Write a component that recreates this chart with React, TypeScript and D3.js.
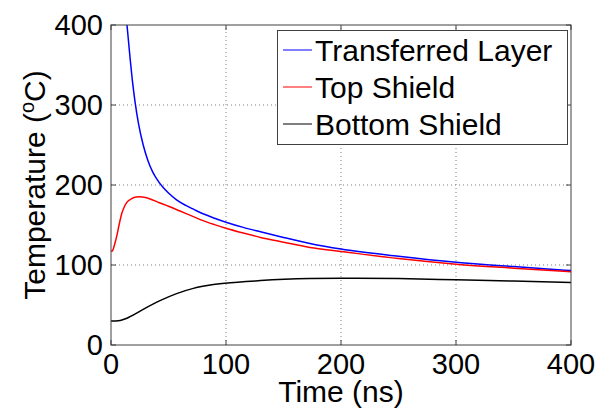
import React, { useRef, useEffect } from "react";
import * as d3 from "d3";

// readings from the picture: [time ns, temperature C]
const transferredLayer: [number, number][] = [
  [13.9, 400], [16.5, 360], [18.8, 328], [21, 303], [24, 276], [28, 250], [32, 231],
  [36, 217], [40, 207], [45, 197.5], [50, 190], [57, 181.5], [65, 174.5], [72, 169.5],
  [80, 164], [90, 158.5], [100, 153.5], [115, 147], [130, 141.5], [150, 134.5], [173, 127],
  [200, 120], [250, 111], [300, 103.5], [350, 98], [400, 93],
];
const topShield: [number, number][] = [
  [0, 118], [1, 117.3], [2, 120], [3, 125], [5, 136], [7, 150], [9.3, 164], [11.5, 172.5],
  [13.6, 178], [18, 183], [22, 185], [25, 185.3], [30, 184.5], [42.6, 177.5], [50, 173.5],
  [60, 167.5], [71.6, 160.5], [80, 155.5], [90, 150.5], [100, 146], [115, 140], [130, 134.5],
  [150, 128.5], [173, 122], [200, 117], [250, 108], [300, 101], [350, 96], [400, 91.5],
];
const bottomShield: [number, number][] = [
  [0, 30], [4, 30.1], [8, 30.6], [12, 32.5], [16.5, 35.4], [28, 44.6], [42.6, 55.4],
  [57, 64.2], [71.6, 70.8], [85, 74.6], [99, 77.2], [130, 80.5], [173, 83], [200, 83.5],
  [250, 83], [300, 81.5], [350, 80], [400, 78],
];

const seriesNames = ["Transferred Layer", "Top Shield", "Bottom Shield"];
const seriesColors = ["#0000ff", "#ff0000", "#000000"];
const xTicks = [0, 100, 200, 300, 400];
const yTicks = [0, 100, 200, 300, 400];

const App = () => {
  const svgRef = useRef<SVGSVGElement>(null);
  const width = 612;
  const height = 408;
  const margin = { left: 111, right: 41, top: 25, bottom: 63 };
  const font = "'Liberation Sans', Arial, sans-serif";

  useEffect(() => {
    const svg = d3.select(svgRef.current);
    svg.selectAll("*").remove();

    const x = d3.scaleLinear().domain([0, 400]).range([margin.left, width - margin.right]);
    const y = d3.scaleLinear().domain([0, 400]).range([height - margin.bottom, margin.top]);
    const [x0, x1] = x.range();
    const [y0, y1] = y.range();

    svg.append("rect").attr("width", width).attr("height", height).attr("fill", "#fff");

    // grid
    const grid = svg.append("g").attr("stroke", "#808080").attr("stroke-dasharray", "1,3").attr("stroke-width", 1);
    xTicks.slice(1, -1).forEach((t) => {
      grid.append("line").attr("x1", x(t)).attr("x2", x(t)).attr("y1", y0).attr("y2", y1);
    });
    yTicks.slice(1, -1).forEach((t) => {
      grid.append("line").attr("x1", x0).attr("x2", x1).attr("y1", y(t)).attr("y2", y(t));
    });

    // curves
    const clip = svg.append("clipPath").attr("id", "plotclip");
    clip.append("rect").attr("x", x0).attr("y", y1).attr("width", x1 - x0).attr("height", y0 - y1);

    const line = d3.line<[number, number]>()
      .x((d) => x(d[0]))
      .y((d) => y(d[1]))
      .curve(d3.curveMonotoneX);

    [transferredLayer, topShield, bottomShield].forEach((data, i) => {
      svg.append("path")
        .attr("d", line(data))
        .attr("fill", "none")
        .attr("stroke", seriesColors[i])
        .attr("stroke-width", 1.5)
        .attr("clip-path", "url(#plotclip)");
    });

    // box and ticks
    const axisColor = "#404040";
    svg.append("rect")
      .attr("x", x0).attr("y", y1).attr("width", x1 - x0).attr("height", y0 - y1)
      .attr("fill", "none").attr("stroke", axisColor).attr("stroke-width", 1);
    const ticks = svg.append("g").attr("stroke", axisColor);
    xTicks.forEach((t) => {
      ticks.append("line").attr("x1", x(t)).attr("x2", x(t)).attr("y1", y0).attr("y2", y0 - 5);
      ticks.append("line").attr("x1", x(t)).attr("x2", x(t)).attr("y1", y1).attr("y2", y1 + 5);
    });
    yTicks.forEach((t) => {
      ticks.append("line").attr("x1", x0).attr("x2", x0 + 5).attr("y1", y(t)).attr("y2", y(t));
      ticks.append("line").attr("x1", x1).attr("x2", x1 - 5).attr("y1", y(t)).attr("y2", y(t));
    });

    // tick labels
    svg.append("g").selectAll("text").data(xTicks).enter().append("text")
      .attr("x", (d) => x(d)).attr("y", y0 + 29)
      .attr("text-anchor", "middle").attr("font-family", font).attr("font-size", 29)
      .text((d) => d);
    svg.append("g").selectAll("text").data(yTicks).enter().append("text")
      .attr("x", x0 - 8).attr("y", (d) => y(d) + 10)
      .attr("text-anchor", "end").attr("font-family", font).attr("font-size", 29)
      .text((d) => d);

    // axis labels
    svg.append("text")
      .attr("x", (x0 + x1) / 2).attr("y", y0 + 57)
      .attr("text-anchor", "middle").attr("font-family", font).attr("font-size", 30)
      .text("Time (ns)");
    const yl = svg.append("text")
      .attr("transform", `translate(45,${(y0 + y1) / 2}) rotate(-90)`)
      .attr("text-anchor", "middle").attr("font-family", font).attr("font-size", 30);
    yl.append("tspan").text("Temperature (");
    yl.append("tspan").attr("font-size", 20).attr("dy", -11).text("o");
    yl.append("tspan").attr("dy", 11).text("C)");

    // legend
    const lg = svg.append("g");
    lg.append("rect")
      .attr("x", 277.5).attr("y", 30.5).attr("width", 290).attr("height", 114)
      .attr("fill", "#fff").attr("stroke", axisColor).attr("stroke-width", 1);
    seriesNames.forEach((name, i) => {
      const cy = 50 + i * 37;
      lg.append("line").attr("x1", 283).attr("x2", 312).attr("y1", cy).attr("y2", cy)
        .attr("stroke", seriesColors[i]).attr("stroke-width", 1);
      lg.append("text").attr("x", 315).attr("y", cy + 11)
        .attr("font-family", font).attr("font-size", 30).text(name);
    });
  });

  return (
    <div>
      <svg ref={svgRef} width={width} height={height} style={{ position: "absolute", left: 0, top: 0 }}></svg>
    </div>
  );
};

export default App;
